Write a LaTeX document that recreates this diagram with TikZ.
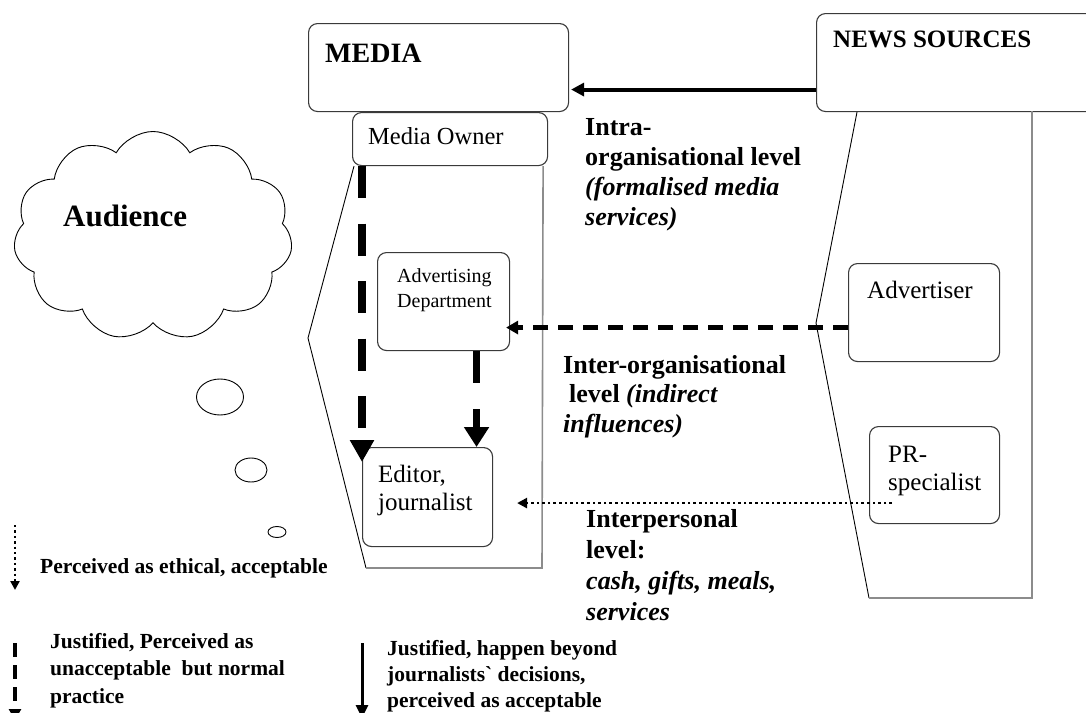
\documentclass[tikz,border=0pt]{standalone}
\usepackage{fontspec}
\setmainfont{Liberation Serif}
\usetikzlibrary{shapes.symbols,shapes.geometric,arrows.meta,positioning}
\definecolor{boxgrey}{HTML}{3A3A3A}
\definecolor{panelgrey}{HTML}{8C8C8C}

\begin{document}
\begin{tikzpicture}[x=1pt, y=-1pt,
  box/.style={rectangle, rounded corners=9pt, draw=boxgrey, line width=1.1pt, fill=white,
              anchor=north west, inner sep=0pt},
  head/.style={font=\fontsize{#1}{#1}\selectfont\bfseries, anchor=base west, inner sep=0pt},
  plain/.style={font=\fontsize{#1}{27.5}\selectfont, anchor=base west, inner sep=0pt, align=left},
  level/.style={font=\fontsize{26}{#1}\selectfont\bfseries, anchor=base west, inner sep=0pt, align=left},
  legend/.style={font=\fontsize{21.5}{#1}\selectfont\bfseries, anchor=base west, inner sep=0pt, align=left},
  panel/.style={line width=0.9pt, draw=black},
  panelside/.style={line width=1.6pt, draw=panelgrey},
  bubble/.style={ellipse, draw, line width=0.9pt, inner sep=0pt},
  bigdash/.style={line width=#1, dash pattern=on 32pt off 25.5pt},
]
  \useasboundingbox (0,0) rectangle (1086,712);
  \clip (0,0) rectangle (1086,712);

  % panels behind the boxes
  \coordinate (mediakink) at (308,338);
  \coordinate (mediabase) at (366,568);
  \coordinate (newskink) at (816,323);
  \coordinate (newsbase) at (869,598);

  % top boxes
  \node[box, minimum width=260pt, minimum height=88pt] (media) at (308,23) {};
  \node[box, minimum width=290pt, minimum height=98pt] (news) at (816,13) {};
  \node[box, minimum width=195pt, minimum height=53pt] (owner) at (352,112) {};

  \draw[panel] ([xshift=2pt]owner.south west) -- (mediakink) -- (mediabase);
  \draw[panelside] (mediabase) -- (542,568) -- ([xshift=-5pt]owner.south east);
  \draw[panel] ([xshift=41pt]news.south west) -- (newskink) -- (newsbase);
  \draw[panelside] (newsbase) -- (1032,598) -- (1032,111);

  \node[head=28] (medialbl) at (325,62) {MEDIA};
  \node[head=25] (newslbl) at (833,47) {NEWS SOURCES};
  \node[plain=24.5] (ownerlbl) at (368,144) {Media Owner};

  % inner boxes
  \node[box, minimum width=132pt, minimum height=98pt] (adv) at (377,252) {};
  \node[box, minimum width=130pt, minimum height=99pt] (editor) at (362,447) {};
  \node[box, minimum width=151pt, minimum height=98pt] (advertiser) at (848,263) {};
  \node[box, minimum width=130pt, minimum height=97pt] (pr) at (869,426) {};

  \node[font=\fontsize{20}{25}\selectfont, anchor=base west, inner sep=0pt, align=left]
    (advlbl) at (397,307) {Advertising\\Department};
  \node[plain=25] (editorlbl) at (378,510) {Editor,\\journalist};
  \node[plain=25] (advertiserlbl) at (867,298) {Advertiser};
  \node[plain=25] (prlbl) at (888,490) {PR-\\specialist};

  % audience
  \node[cloud, cloud puffs=11, cloud puff arc=120, aspect=1.35, draw, line width=0.9pt,
        minimum width=279pt, minimum height=209pt] (cloud) at (153,236) {};
  \node[head=31] (audience) at (63,226) {Audience};
  \node[bubble, minimum width=47pt, minimum height=36pt] (bubblea) at (220,397) {};
  \node[bubble, minimum width=32pt, minimum height=24pt] (bubbleb) at (251,470) {};
  \node[bubble, minimum width=18pt, minimum height=11pt] (bubblec) at (277,532) {};

  % influences
  \draw[line width=4pt, -{Triangle[length=13pt,width=13pt]}]
    ([yshift=-27pt]news.west) -- ([xshift=2pt,yshift=-22pt]media.east);
  \draw[bigdash=8pt, -{Triangle[length=22pt,width=23pt]}]
    ([xshift=10pt]owner.south west) -- ([yshift=-15pt]editor.north west);
  \draw[bigdash=7pt, dash pattern=on 32pt off 26pt, -{Triangle[length=20pt,width=24pt]}]
    ([xshift=33pt]adv.south) -- ([xshift=49pt]editor.north);
  \draw[line width=4.5pt, dash pattern=on 15pt off 10pt, -{Triangle[length=12pt,width=13pt]}]
    ([yshift=-15pt]advertiser.west) -- ([xshift=-4pt,yshift=-26pt]adv.east);
  \draw[line width=2.6pt, dash pattern=on 2.6pt off 3pt, -{Triangle[length=10pt,width=10pt]}]
    ([xshift=23pt,yshift=-28pt]pr.west) -- ([xshift=24pt,yshift=-6pt]editor.east);

  \node[level=30] (intra) at (585,225)
    {Intra-\\organisational level\\\textit{(formalised media}\\\textit{services)}};
  \node[level=29.5] (inter) at (563,432)
    {Inter-organisational\\\hspace{6pt}level \textit{(indirect}\\\textit{influences)}};
  \node[level=31] (interp) at (586,620)
    {Interpersonal\\level:\\\textit{cash, gifts, meals,}\\\textit{services}};

  % legend
  \coordinate (dottop) at (15,525);
  \coordinate (dotend) at (15,590);
  \coordinate (dashtop) at (15,643);
  \coordinate (dashend) at (15,720);
  \coordinate (solidtop) at (362,643);
  \coordinate (solidend) at (362,718);
  \draw[line width=2.2pt, dash pattern=on 2.4pt off 3pt, -{Triangle[length=9pt,width=9pt]}]
    (dottop) -- (dotend);
  \draw[line width=4pt, dash pattern=on 14pt off 8pt, -{Triangle[length=11pt,width=12pt]}]
    (dashtop) -- (dashend);
  \draw[line width=3pt, -{Triangle[length=13pt,width=12pt]}] (solidtop) -- (solidend);
  \node[legend=27.5] (legdot) at (40,573) {Perceived as ethical, acceptable};
  \node[legend=27.5] (legdash) at (50,703)
    {Justified, Perceived as\\unacceptable\ \ but normal\\practice};
  \node[legend=26] (legsolid) at (387,707)
    {Justified, happen beyond\\journalists\textasciigrave\ decisions,\\perceived as acceptable};
\end{tikzpicture}
\end{document}
